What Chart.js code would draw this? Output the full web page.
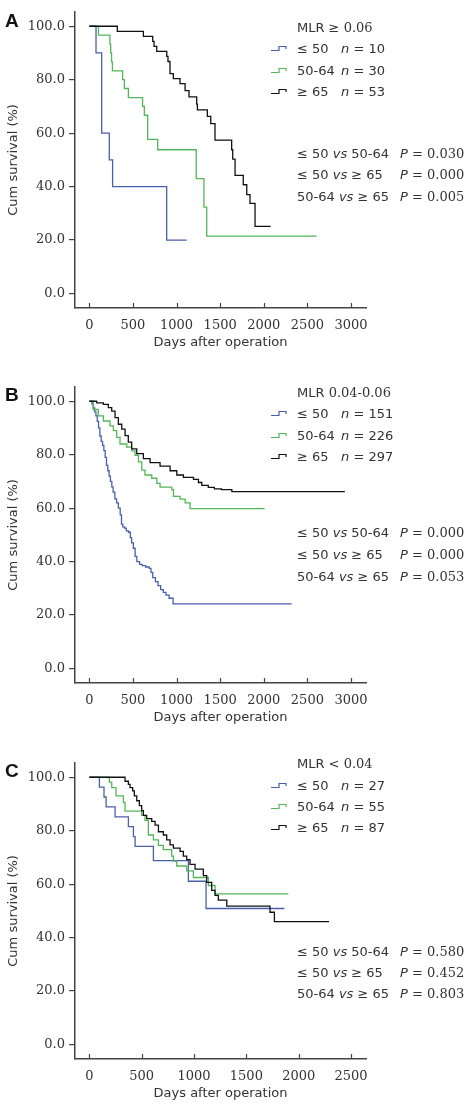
<!DOCTYPE html>
<html><head><meta charset="utf-8">
<script src="https://cdn.jsdelivr.net/npm/chart.js@4.4.1/dist/chart.umd.min.js"></script>
<style>
html,body{margin:0;padding:0;background:#fff;width:472px;height:1106px;overflow:hidden;position:relative;}
.panel{position:absolute;left:0;width:472px;height:350px;}
canvas{display:block;}
.txt{position:absolute;font-family:"DejaVu Sans";font-size:13px;color:#333;white-space:nowrap;line-height:14px;}
.num{font-family:"DejaVu Serif";}
.it{font-style:italic;}
.letter{position:absolute;font-family:"Liberation Sans";font-weight:bold;font-size:19px;color:#111;line-height:19px;}
svg.sym{position:absolute;overflow:visible;}
</style>
</head><body>
<div id="root"></div>
<script>
// ---------- data ----------
const X_TICKS_AB = [0, 500, 1000, 1500, 2000, 2500, 3000];
const X_TICKS_C = [0, 500, 1000, 1500, 2000, 2500];
const Y_TICKS = [0, 20, 40, 60, 80, 100];
const GROUP_LABELS = ["≤ 50", "50-64", "≥ 65"];
const COMPARISONS = [["≤ 50", "50-64"], ["≤ 50", "≥ 65"], ["50-64", "≥ 65"]];
const MLR_TITLES = [["MLR ≥ ", "0.06"], ["MLR ", "0.04-0.06"], ["MLR < ", "0.04"]];
const N_A = [10, 30, 53];
const N_B = [151, 226, 297];
const N_C = [27, 55, 87];
const P_A = ["0.030", "0.000", "0.005"];
const P_B = ["0.000", "0.000", "0.053"];
const P_C = ["0.580", "0.452", "0.803"];

// Panel A (MLR >= 0.06)
const A_LE50_DAYS = [0, 77, 142, 229, 267, 887, 1117];
const A_LE50_SURV = [100, 90, 60, 50, 40, 20, 20];
const A_5064_DAYS = [0, 105, 236, 245, 255, 265, 382, 402, 448, 611, 631, 669, 784, 1226, 1314, 1346, 2607];
const A_5064_SURV = [100, 96.7, 93.3, 90, 86.7, 83.3, 80, 76.7, 73.3, 70, 66.7, 57.7, 53.8, 43, 32.3, 21.5, 21.5];
const A_GE65_DAYS = [0, 321, 620, 727, 742, 773, 888, 902, 925, 963, 1040, 1098, 1143, 1231, 1239, 1353, 1392, 1441, 1632, 1644, 1671, 1765, 1805, 1842, 1900, 2079];
const A_GE65_SURV = [100, 98.1, 96.2, 94.3, 92.5, 90.6, 88.7, 86.8, 82.3, 80.4, 78.5, 75.9, 73.6, 70.9, 68.7, 66.3, 63.6, 57.4, 53.8, 50.3, 44.2, 40.7, 37, 33.7, 25.1, 25.1];

// Panel B (MLR 0.04-0.06)
const B_LE50_DAYS = [0, 30, 45, 61, 76, 91, 106, 121, 136, 152, 167, 182, 197, 212, 227, 242, 258, 273, 293, 313, 333, 354, 369, 384, 404, 424, 449, 470, 485, 505, 525, 545, 576, 606, 646, 687, 707, 727, 758, 788, 818, 848, 879, 915, 960, 2320];
const B_LE50_SURV = [100, 99, 97.5, 96, 94.5, 92.5, 90, 87, 85, 83.5, 81.5, 79, 76, 74, 72, 70, 68, 66, 63.5, 62, 60, 57.5, 54, 53, 52.5, 51.5, 51, 49, 47, 45, 42, 40, 39, 38.5, 38, 37.5, 36, 34, 32.5, 31, 29.5, 28.5, 27.5, 26.3, 24.2, 24.2];
const B_5064_DAYS = [0, 45, 103, 161, 237, 276, 314, 352, 429, 486, 524, 563, 601, 639, 716, 774, 811, 945, 965, 1041, 1099, 1155, 2010];
const B_5064_SURV = [100, 96.9, 94.5, 92.6, 90.8, 89, 86.5, 84, 82.8, 81.4, 79.8, 77.3, 74.2, 72.4, 71.2, 69.3, 67.9, 66.9, 64.4, 63.4, 62, 59.8, 59.8];
const B_GE65_DAYS = [0, 85, 161, 218, 257, 295, 333, 372, 410, 447, 486, 544, 620, 697, 811, 926, 1003, 1079, 1194, 1251, 1290, 1364, 1434, 1515, 1634, 2930];
const B_GE65_SURV = [100, 99.4, 98.8, 97.6, 96.3, 93.9, 91.4, 89.6, 87.1, 84.7, 82.2, 80.4, 78.5, 77, 75.7, 74, 72.4, 71.5, 70.8, 69.6, 68.5, 67.8, 67.2, 66.9, 66.2, 66.2];

// Panel C (MLR < 0.04)
const C_LE50_DAYS = [0, 96, 140, 160, 246, 373, 421, 437, 612, 946, 1115, 1863];
const C_LE50_SURV = [100, 96.3, 92.6, 88.9, 85.2, 81.5, 77.8, 74.1, 68.8, 61.1, 50.9, 50.9];
const C_5064_DAYS = [0, 191, 214, 255, 325, 341, 500, 532, 564, 612, 660, 707, 787, 803, 835, 930, 994, 1137, 1201, 1901];
const C_5064_SURV = [100, 98.2, 96.1, 93, 90.6, 87.3, 85.7, 83.9, 78.4, 76.6, 74.5, 72.9, 70.5, 68.6, 66.8, 65, 62.5, 59.5, 56.4, 56.4];
const C_GE65_DAYS = [0, 341, 373, 389, 414, 430, 453, 478, 500, 516, 548, 596, 628, 660, 707, 739, 771, 803, 867, 898, 930, 962, 1010, 1089, 1121, 1169, 1201, 1232, 1313, 1726, 1768, 2290];
const C_GE65_SURV = [100, 98.5, 97.3, 96.1, 94.9, 93, 91.2, 89.4, 87.5, 85.7, 84.5, 83.5, 82.1, 79.6, 78.4, 76.6, 74.7, 73.5, 72.3, 70.5, 69.2, 67.4, 65.6, 63.2, 60.7, 57.7, 55.8, 54, 51.8, 49.5, 46, 46];

// ---------- styling / layout ----------
const COLORS = ["#4a5fab", "#54b65a", "#111111"];
const AXIS_COLOR = "#444";
const TEXT_COLOR = "#333";

const PANELS = [
  { letter: "A", top: 0, xTicks: X_TICKS_AB, xMin: -164, xMax: 3172,
    series: [[A_LE50_DAYS, A_LE50_SURV], [A_5064_DAYS, A_5064_SURV], [A_GE65_DAYS, A_GE65_SURV]],
    n: N_A, p: P_A, title: MLR_TITLES[0],
    legY: [28, 49, 71, 92], pY: [154, 175, 197] },
  { letter: "B", top: 375, xTicks: X_TICKS_AB, xMin: -164, xMax: 3172,
    series: [[B_LE50_DAYS, B_LE50_SURV], [B_5064_DAYS, B_5064_SURV], [B_GE65_DAYS, B_GE65_SURV]],
    n: N_B, p: P_B, title: MLR_TITLES[1],
    legY: [18, 39, 61, 82], pY: [158, 180, 202] },
  { letter: "C", top: 751, xTicks: X_TICKS_C, xMin: -137, xMax: 2643,
    series: [[C_LE50_DAYS, C_LE50_SURV], [C_5064_DAYS, C_5064_SURV], [C_GE65_DAYS, C_GE65_SURV]],
    n: N_C, p: P_C, title: MLR_TITLES[2],
    legY: [13, 35, 56, 77], pY: [201, 222, 243] }
];

const innerTicks = {
  id: 'innerTicks',
  afterDraw(chart) {
    const sx = chart.scales.x, ctx = chart.ctx, b = chart.chartArea.bottom;
    ctx.save();
    ctx.strokeStyle = AXIS_COLOR; ctx.lineWidth = 1.2;
    sx.ticks.forEach(t => {
      const x = Math.round(sx.getPixelForValue(t.value)) + 0.5;
      ctx.beginPath(); ctx.moveTo(x, b); ctx.lineTo(x, b - 5); ctx.stroke();
    });
    ctx.restore();
  }
};

const root = document.getElementById('root');

function addText(html, left, centerY, extraClass) {
  const d = document.createElement('div');
  d.className = 'txt' + (extraClass ? ' ' + extraClass : '');
  d.style.left = left + 'px';
  d.style.top = (centerY - 7) + 'px';
  d.innerHTML = html;
  root.appendChild(d);
}
function addSymbol(left, centerY, color) {
  const ns = 'http://www.w3.org/2000/svg';
  const s = document.createElementNS(ns, 'svg');
  s.setAttribute('class', 'sym');
  s.setAttribute('width', '17'); s.setAttribute('height', '8');
  s.style.left = left + 'px'; s.style.top = (centerY - 4) + 'px';
  const pl = document.createElementNS(ns, 'polyline');
  pl.setAttribute('points', '0,5.5 8,5.5 8,1.5 15,1.5 15,4');
  pl.setAttribute('fill', 'none'); pl.setAttribute('stroke', color); pl.setAttribute('stroke-width', '1.2');
  s.appendChild(pl);
  root.appendChild(s);
}

PANELS.forEach((P, pi) => {
  const wrap = document.createElement('div');
  wrap.className = 'panel';
  wrap.style.top = P.top + 'px';
  const cv = document.createElement('canvas');
  cv.width = 472; cv.height = 350;
  cv.style.width = '472px'; cv.style.height = '350px';
  wrap.appendChild(cv);
  root.appendChild(wrap);

  // black on top: reverse order
  const datasets = [2, 1, 0].map(gi => ({
    label: GROUP_LABELS[gi],
    data: P.series[gi][0].map((d, i) => ({ x: d, y: P.series[gi][1][i] })),
    borderColor: COLORS[gi],
    borderWidth: 1.3,
    pointRadius: 0,
    stepped: 'before',
    fill: false,
    tension: 0
  }));

  new Chart(cv, {
    type: 'line',
    data: { datasets },
    options: {
      responsive: false, animation: false, devicePixelRatio: 1,
      layout: { padding: { top: 7, right: 106, bottom: 0, left: 0 } },
      plugins: { legend: { display: false }, tooltip: { enabled: false } },
      scales: {
        x: {
          type: 'linear', min: P.xMin, max: P.xMax,
          afterBuildTicks: s => { s.ticks = P.xTicks.map(v => ({ value: v })); },
          afterFit: s => { s.height = 42; },
          grid: { display: false },
          border: { display: true, color: AXIS_COLOR, width: 1.5 },
          ticks: { padding: 2, color: TEXT_COLOR, autoSkip: false, maxRotation: 0,
                   font: { family: 'DejaVu Serif', size: 13 }, callback: v => String(v) },
          title: { display: true, text: 'Days after operation', color: TEXT_COLOR,
                   font: { family: 'DejaVu Sans', size: 13 }, padding: { top: 0, bottom: 0 } }
        },
        y: {
          type: 'linear', min: -5.4, max: 105.4,
          afterBuildTicks: s => { s.ticks = Y_TICKS.map(v => ({ value: v })); },
          afterFit: s => { s.width = 75; },
          grid: { display: true, drawOnChartArea: false, drawTicks: true, tickLength: 6,
                  color: AXIS_COLOR, lineWidth: 1.2 },
          border: { display: true, color: AXIS_COLOR, width: 1.5 },
          ticks: { padding: 4, color: TEXT_COLOR, font: { family: 'DejaVu Serif', size: 13 },
                   callback: v => Number(v).toFixed(1) },
          title: { display: true, text: 'Cum survival (%)', color: TEXT_COLOR,
                   font: { family: 'DejaVu Sans', size: 13 }, padding: { top: 6, bottom: 0 } }
        }
      }
    },
    plugins: [innerTicks]
  });

  // panel letter
  const L = document.createElement('div');
  L.className = 'letter';
  L.style.left = '5px';
  L.style.top = (P.top + [11, 10, 10][pi]) + 'px';
  L.textContent = P.letter;
  root.appendChild(L);

  // legend
  const X0 = 297, XN = 341, XP = 400, XS = 271;
  addText(P.title[0] + '<span class="num">' + P.title[1] + '</span>', X0, P.top + P.legY[0]);
  GROUP_LABELS.forEach((g, gi) => {
    const cy = P.top + P.legY[gi + 1];
    addSymbol(XS, cy, COLORS[gi]);
    addText(g, X0, cy);
    addText('<span class="it">n</span> = ' + P.n[gi], XN, cy);
  });
  COMPARISONS.forEach((c, ci) => {
    const cy = P.top + P.pY[ci];
    addText(c[0] + ' <span class="it">vs</span> ' + c[1], X0, cy);
    addText('<span class="it">P</span> = <span class="num">' + P.p[ci] + '</span>', XP, cy);
  });
});
</script>
</body></html>
